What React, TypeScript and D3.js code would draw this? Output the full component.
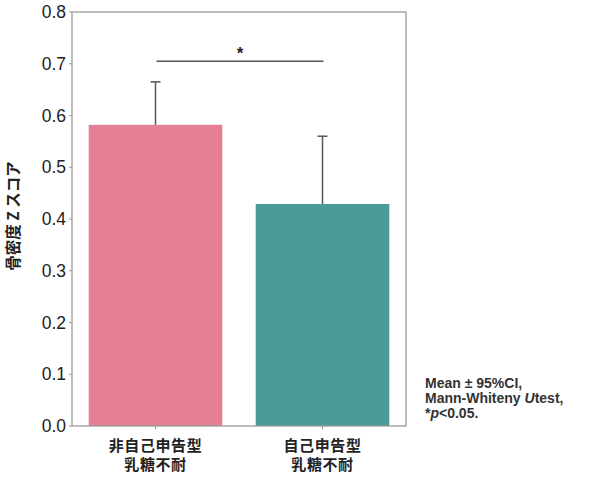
import React from "react";
import * as d3 from "d3";

const categories = ["非自己申告型\n乳糖不耐", "自己申告型\n乳糖不耐"];
const means = [0.582, 0.429];
const upperCI = [0.665, 0.56];
const barColors = ["#e57f93", "#4a9c99"];
const yTicks = [0, 0.1, 0.2, 0.3, 0.4, 0.5, 0.6, 0.7, 0.8];
const sigLevel = 0.705;
const noteLines = ["Mean ± 95%CI,", "Mann-Whiteny ", "*"];

const W = 600;
const H = 483;
const margin = { left: 72, right: 194, top: 12, bottom: 57 };

export default function App() {
  const x = d3
    .scaleBand<string>()
    .domain(categories)
    .range([margin.left, W - margin.right])
    .paddingInner(0.2)
    .paddingOuter(0.1);
  const y = d3.scaleLinear().domain([0, 0.8]).range([H - margin.bottom, margin.top]);
  const font = "'Liberation Sans', Arial, sans-serif";
  const jp = "'Noto Sans CJK JP', 'Noto Sans', sans-serif";
  const axisColor = "#9a9a9a";
  const errColor = "#555";

  const c0 = x(categories[0])! + x.bandwidth() / 2;
  const c1 = x(categories[1])! + x.bandwidth() / 2;

  return (
    <svg
      width={W}
      height={H}
      style={{ position: "absolute", left: 0, top: 0, background: "#fff" }}
    >
      {categories.map((c, i) => (
        <rect
          key={c}
          x={x(c)}
          y={y(means[i])}
          width={x.bandwidth()}
          height={y(0) - y(means[i])}
          fill={barColors[i]}
        />
      ))}
      {categories.map((c, i) => {
        const cx = x(c)! + x.bandwidth() / 2;
        return (
          <g key={"e" + c} stroke={errColor} strokeWidth={1.5}>
            <line x1={cx} x2={cx} y1={y(means[i])} y2={y(upperCI[i])} />
            <line x1={cx - 5} x2={cx + 5} y1={y(upperCI[i])} y2={y(upperCI[i])} />
          </g>
        );
      })}
      <line x1={c0 + 1} x2={c1 + 1} y1={y(sigLevel)} y2={y(sigLevel)} stroke={errColor} strokeWidth={1.5} />
      <text x={(c0 + c1) / 2 + 1} y={y(sigLevel) - 2} textAnchor="middle" fontFamily={font} fontWeight="bold" fontSize={17} fill="#222">
        *
      </text>
      <rect
        x={margin.left}
        y={margin.top}
        width={W - margin.left - margin.right}
        height={H - margin.top - margin.bottom}
        fill="none"
        stroke={axisColor}
        strokeWidth={1.3}
      />
      {yTicks.map((t) => (
        <g key={t}>
          <line x1={margin.left - 3} x2={margin.left} y1={y(t)} y2={y(t)} stroke={axisColor} />
          <text
            x={margin.left - 6}
            y={y(t)}
            dy="0.35em"
            textAnchor="end"
            fontFamily={font}
            fontSize={17.5}
            fill="#222"
          >
            {t.toFixed(1)}
          </text>
        </g>
      ))}
      {categories.map((c) => {
        const cx = x(c)! + x.bandwidth() / 2;
        const lines = c.split("\n");
        return (
          <g key={"x" + c}>
            <line x1={cx} x2={cx} y1={y(0)} y2={y(0) + 3} stroke={axisColor} />
            {lines.map((l, j) => (
              <text
                key={j}
                x={cx}
                y={451 + j * 19}
                textAnchor="middle"
                fontFamily={jp}
                fontWeight="bold"
                fontSize={15}
                letterSpacing={0.6}
                fill="#222"
              >
                {l}
              </text>
            ))}
          </g>
        );
      })}
      <text
        transform={`translate(19,216) rotate(-90)`}
        textAnchor="middle"
        fontFamily={jp}
        fontWeight="bold"
        fontSize={15.5}
        fill="#222"
      >
        骨密度 Z スコア
      </text>
      <g fontFamily={font} fontWeight="bold" fontSize={14} fill="#333">
        <text x={425} y={388}>{noteLines[0]}</text>
        <text x={425} y={403}>
          {noteLines[1]}
          <tspan fontStyle="italic">U</tspan>
          test,
        </text>
        <text x={425} y={418}>
          {noteLines[2]}
          <tspan fontStyle="italic">p</tspan>
          {"<0.05."}
        </text>
      </g>
    </svg>
  );
}
